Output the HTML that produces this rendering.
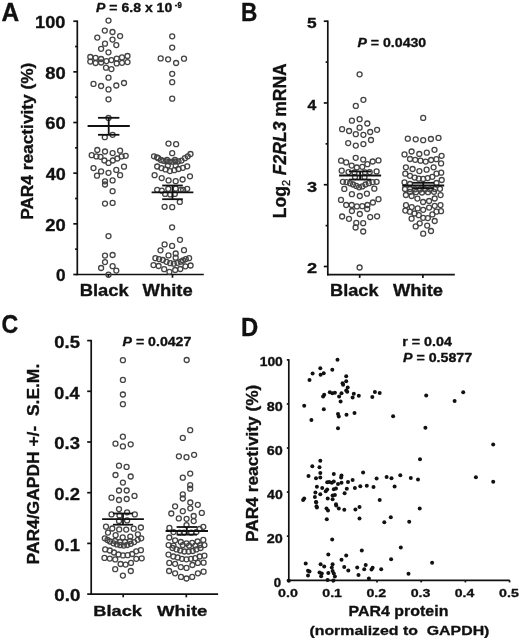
<!DOCTYPE html>
<html><head><meta charset="utf-8"><style>
html,body{margin:0;padding:0;background:#fff;}
svg{display:block;filter:blur(0.35px);}
text{font-family:"Liberation Sans",sans-serif;}
</style></head><body>
<svg width="520" height="640" viewBox="0 0 520 640">
<line x1="77.30" y1="20.45" x2="77.30" y2="275.25" stroke="#111" stroke-width="1.7"/>
<line x1="76.55" y1="274.50" x2="203.80" y2="274.50" stroke="#111" stroke-width="1.7"/>
<line x1="73.30" y1="274.50" x2="77.30" y2="274.50" stroke="#111" stroke-width="1.7"/>
<line x1="73.30" y1="223.84" x2="77.30" y2="223.84" stroke="#111" stroke-width="1.7"/>
<line x1="73.30" y1="173.18" x2="77.30" y2="173.18" stroke="#111" stroke-width="1.7"/>
<line x1="73.30" y1="122.52" x2="77.30" y2="122.52" stroke="#111" stroke-width="1.7"/>
<line x1="73.30" y1="71.86" x2="77.30" y2="71.86" stroke="#111" stroke-width="1.7"/>
<line x1="73.30" y1="21.20" x2="77.30" y2="21.20" stroke="#111" stroke-width="1.7"/>
<line x1="75.10" y1="249.17" x2="77.30" y2="249.17" stroke="#111" stroke-width="1.7"/>
<line x1="75.10" y1="198.51" x2="77.30" y2="198.51" stroke="#111" stroke-width="1.7"/>
<line x1="75.10" y1="147.85" x2="77.30" y2="147.85" stroke="#111" stroke-width="1.7"/>
<line x1="75.10" y1="97.19" x2="77.30" y2="97.19" stroke="#111" stroke-width="1.7"/>
<line x1="75.10" y1="46.53" x2="77.30" y2="46.53" stroke="#111" stroke-width="1.7"/>
<line x1="108.40" y1="274.50" x2="108.40" y2="277.70" stroke="#111" stroke-width="1.7"/>
<line x1="172.50" y1="274.50" x2="172.50" y2="277.70" stroke="#111" stroke-width="1.7"/>
<line x1="327.80" y1="20.44" x2="327.80" y2="275.45" stroke="#111" stroke-width="1.7"/>
<line x1="327.05" y1="274.70" x2="454.80" y2="274.70" stroke="#111" stroke-width="1.7"/>
<line x1="323.80" y1="266.50" x2="327.80" y2="266.50" stroke="#111" stroke-width="1.7"/>
<line x1="323.80" y1="184.73" x2="327.80" y2="184.73" stroke="#111" stroke-width="1.7"/>
<line x1="323.80" y1="102.96" x2="327.80" y2="102.96" stroke="#111" stroke-width="1.7"/>
<line x1="323.80" y1="21.19" x2="327.80" y2="21.19" stroke="#111" stroke-width="1.7"/>
<line x1="325.60" y1="225.62" x2="327.80" y2="225.62" stroke="#111" stroke-width="1.7"/>
<line x1="325.60" y1="143.84" x2="327.80" y2="143.84" stroke="#111" stroke-width="1.7"/>
<line x1="325.60" y1="62.08" x2="327.80" y2="62.08" stroke="#111" stroke-width="1.7"/>
<line x1="359.70" y1="274.70" x2="359.70" y2="277.90" stroke="#111" stroke-width="1.7"/>
<line x1="422.90" y1="274.70" x2="422.90" y2="277.90" stroke="#111" stroke-width="1.7"/>
<line x1="91.20" y1="339.85" x2="91.20" y2="594.85" stroke="#111" stroke-width="1.7"/>
<line x1="90.45" y1="594.10" x2="218.10" y2="594.10" stroke="#111" stroke-width="1.7"/>
<line x1="87.20" y1="594.10" x2="91.20" y2="594.10" stroke="#111" stroke-width="1.7"/>
<line x1="87.20" y1="543.40" x2="91.20" y2="543.40" stroke="#111" stroke-width="1.7"/>
<line x1="87.20" y1="492.70" x2="91.20" y2="492.70" stroke="#111" stroke-width="1.7"/>
<line x1="87.20" y1="442.00" x2="91.20" y2="442.00" stroke="#111" stroke-width="1.7"/>
<line x1="87.20" y1="391.30" x2="91.20" y2="391.30" stroke="#111" stroke-width="1.7"/>
<line x1="87.20" y1="340.60" x2="91.20" y2="340.60" stroke="#111" stroke-width="1.7"/>
<line x1="123.20" y1="594.10" x2="123.20" y2="597.30" stroke="#111" stroke-width="1.7"/>
<line x1="186.30" y1="594.10" x2="186.30" y2="597.30" stroke="#111" stroke-width="1.7"/>
<line x1="288.80" y1="359.15" x2="288.80" y2="581.15" stroke="#111" stroke-width="1.7"/>
<line x1="288.05" y1="580.40" x2="509.80" y2="580.40" stroke="#111" stroke-width="1.7"/>
<line x1="286.80" y1="580.20" x2="288.80" y2="580.20" stroke="#111" stroke-width="1.7"/>
<line x1="286.80" y1="536.14" x2="288.80" y2="536.14" stroke="#111" stroke-width="1.7"/>
<line x1="286.80" y1="492.08" x2="288.80" y2="492.08" stroke="#111" stroke-width="1.7"/>
<line x1="286.80" y1="448.02" x2="288.80" y2="448.02" stroke="#111" stroke-width="1.7"/>
<line x1="286.80" y1="403.96" x2="288.80" y2="403.96" stroke="#111" stroke-width="1.7"/>
<line x1="286.80" y1="359.90" x2="288.80" y2="359.90" stroke="#111" stroke-width="1.7"/>
<line x1="332.80" y1="580.40" x2="332.80" y2="582.40" stroke="#111" stroke-width="1.7"/>
<line x1="377.00" y1="580.40" x2="377.00" y2="582.40" stroke="#111" stroke-width="1.7"/>
<line x1="421.20" y1="580.40" x2="421.20" y2="582.40" stroke="#111" stroke-width="1.7"/>
<line x1="465.40" y1="580.40" x2="465.40" y2="582.40" stroke="#111" stroke-width="1.7"/>
<line x1="509.60" y1="580.40" x2="509.60" y2="582.40" stroke="#111" stroke-width="1.7"/>
<g fill="none" stroke="#444" stroke-width="1.3">
<circle cx="108.5" cy="20.6" r="2.5"/>
<circle cx="104.8" cy="30.6" r="2.5"/>
<circle cx="112.5" cy="32.0" r="2.5"/>
<circle cx="97.3" cy="37.6" r="2.5"/>
<circle cx="120.1" cy="36.1" r="2.5"/>
<circle cx="112.5" cy="39.6" r="2.5"/>
<circle cx="105.0" cy="43.7" r="2.5"/>
<circle cx="116.3" cy="45.1" r="2.5"/>
<circle cx="101.1" cy="48.8" r="2.5"/>
<circle cx="108.5" cy="52.3" r="2.5"/>
<circle cx="90.3" cy="57.0" r="2.5"/>
<circle cx="95.6" cy="57.8" r="2.5"/>
<circle cx="101.1" cy="59.0" r="2.5"/>
<circle cx="116.7" cy="58.6" r="2.5"/>
<circle cx="122.0" cy="57.4" r="2.5"/>
<circle cx="127.5" cy="56.0" r="2.5"/>
<circle cx="90.3" cy="61.6" r="2.5"/>
<circle cx="95.6" cy="63.0" r="2.5"/>
<circle cx="101.1" cy="62.5" r="2.5"/>
<circle cx="106.4" cy="61.1" r="2.5"/>
<circle cx="111.4" cy="60.1" r="2.5"/>
<circle cx="116.7" cy="63.4" r="2.5"/>
<circle cx="122.0" cy="62.8" r="2.5"/>
<circle cx="127.5" cy="62.1" r="2.5"/>
<circle cx="106.0" cy="67.7" r="2.5"/>
<circle cx="111.4" cy="69.1" r="2.5"/>
<circle cx="108.5" cy="77.7" r="2.5"/>
<circle cx="93.5" cy="83.9" r="2.5"/>
<circle cx="101.1" cy="86.0" r="2.5"/>
<circle cx="116.3" cy="85.5" r="2.5"/>
<circle cx="124.0" cy="83.0" r="2.5"/>
<circle cx="108.5" cy="89.4" r="2.5"/>
<circle cx="108.5" cy="99.3" r="2.5"/>
<circle cx="108.5" cy="118.0" r="2.5"/>
<circle cx="104.8" cy="137.2" r="2.5"/>
<circle cx="112.6" cy="134.8" r="2.5"/>
<circle cx="97.3" cy="150.0" r="2.5"/>
<circle cx="105.0" cy="151.5" r="2.5"/>
<circle cx="112.6" cy="153.1" r="2.5"/>
<circle cx="120.1" cy="150.7" r="2.5"/>
<circle cx="91.7" cy="155.2" r="2.5"/>
<circle cx="96.4" cy="156.4" r="2.5"/>
<circle cx="100.5" cy="156.8" r="2.5"/>
<circle cx="121.6" cy="156.4" r="2.5"/>
<circle cx="125.7" cy="155.8" r="2.5"/>
<circle cx="104.4" cy="160.5" r="2.5"/>
<circle cx="112.8" cy="160.5" r="2.5"/>
<circle cx="117.3" cy="158.5" r="2.5"/>
<circle cx="108.5" cy="162.9" r="2.5"/>
<circle cx="93.5" cy="168.1" r="2.5"/>
<circle cx="124.0" cy="166.7" r="2.5"/>
<circle cx="101.1" cy="171.4" r="2.5"/>
<circle cx="108.5" cy="172.8" r="2.5"/>
<circle cx="116.3" cy="169.9" r="2.5"/>
<circle cx="97.0" cy="175.7" r="2.5"/>
<circle cx="120.1" cy="175.2" r="2.5"/>
<circle cx="105.0" cy="181.3" r="2.5"/>
<circle cx="105.0" cy="184.5" r="2.5"/>
<circle cx="112.6" cy="180.4" r="2.5"/>
<circle cx="112.6" cy="191.2" r="2.5"/>
<circle cx="105.0" cy="203.6" r="2.5"/>
<circle cx="112.6" cy="202.9" r="2.5"/>
<circle cx="108.5" cy="236.1" r="2.5"/>
<circle cx="105.0" cy="255.6" r="2.5"/>
<circle cx="112.6" cy="255.0" r="2.5"/>
<circle cx="105.0" cy="262.1" r="2.5"/>
<circle cx="101.1" cy="268.0" r="2.5"/>
<circle cx="112.6" cy="266.2" r="2.5"/>
<circle cx="116.3" cy="270.6" r="2.5"/>
<circle cx="108.5" cy="274.7" r="2.5"/>
<circle cx="172.2" cy="36.3" r="2.5"/>
<circle cx="172.2" cy="47.6" r="2.5"/>
<circle cx="160.7" cy="58.4" r="2.5"/>
<circle cx="168.1" cy="59.3" r="2.5"/>
<circle cx="176.1" cy="63.0" r="2.5"/>
<circle cx="184.0" cy="58.7" r="2.5"/>
<circle cx="172.2" cy="73.8" r="2.5"/>
<circle cx="172.2" cy="82.2" r="2.5"/>
<circle cx="172.2" cy="98.7" r="2.5"/>
<circle cx="168.5" cy="143.6" r="2.5"/>
<circle cx="176.1" cy="144.2" r="2.5"/>
<circle cx="172.2" cy="153.2" r="2.5"/>
<circle cx="154.0" cy="156.3" r="2.5"/>
<circle cx="157.0" cy="157.3" r="2.5"/>
<circle cx="158.2" cy="158.2" r="2.5"/>
<circle cx="160.9" cy="160.0" r="2.5"/>
<circle cx="163.5" cy="160.8" r="2.5"/>
<circle cx="166.5" cy="161.3" r="2.5"/>
<circle cx="169.5" cy="161.6" r="2.5"/>
<circle cx="172.5" cy="161.7" r="2.5"/>
<circle cx="175.5" cy="161.6" r="2.5"/>
<circle cx="178.5" cy="161.3" r="2.5"/>
<circle cx="181.5" cy="160.6" r="2.5"/>
<circle cx="184.9" cy="158.2" r="2.5"/>
<circle cx="187.7" cy="156.3" r="2.5"/>
<circle cx="190.5" cy="154.0" r="2.5"/>
<circle cx="167.0" cy="159.8" r="2.5"/>
<circle cx="175.0" cy="160.0" r="2.5"/>
<circle cx="157.2" cy="166.5" r="2.5"/>
<circle cx="161.4" cy="168.1" r="2.5"/>
<circle cx="165.5" cy="169.4" r="2.5"/>
<circle cx="169.9" cy="171.1" r="2.5"/>
<circle cx="174.3" cy="170.2" r="2.5"/>
<circle cx="178.5" cy="169.0" r="2.5"/>
<circle cx="182.9" cy="167.8" r="2.5"/>
<circle cx="187.2" cy="166.3" r="2.5"/>
<circle cx="167.8" cy="165.5" r="2.5"/>
<circle cx="175.7" cy="165.5" r="2.5"/>
<circle cx="154.6" cy="175.2" r="2.5"/>
<circle cx="161.7" cy="178.1" r="2.5"/>
<circle cx="168.6" cy="180.4" r="2.5"/>
<circle cx="175.7" cy="181.2" r="2.5"/>
<circle cx="182.6" cy="179.5" r="2.5"/>
<circle cx="190.0" cy="176.3" r="2.5"/>
<circle cx="157.2" cy="189.8" r="2.5"/>
<circle cx="161.8" cy="190.7" r="2.5"/>
<circle cx="168.3" cy="188.8" r="2.5"/>
<circle cx="175.7" cy="188.7" r="2.5"/>
<circle cx="180.8" cy="189.8" r="2.5"/>
<circle cx="183.1" cy="189.8" r="2.5"/>
<circle cx="187.2" cy="188.8" r="2.5"/>
<circle cx="165.1" cy="193.9" r="2.5"/>
<circle cx="170.2" cy="194.4" r="2.5"/>
<circle cx="174.8" cy="193.9" r="2.5"/>
<circle cx="179.8" cy="201.9" r="2.5"/>
<circle cx="164.6" cy="206.8" r="2.5"/>
<circle cx="172.2" cy="207.2" r="2.5"/>
<circle cx="172.1" cy="227.3" r="2.5"/>
<circle cx="180.0" cy="239.8" r="2.5"/>
<circle cx="164.6" cy="244.4" r="2.5"/>
<circle cx="172.1" cy="245.9" r="2.5"/>
<circle cx="160.5" cy="250.3" r="2.5"/>
<circle cx="184.0" cy="250.2" r="2.5"/>
<circle cx="168.5" cy="255.4" r="2.5"/>
<circle cx="175.7" cy="253.5" r="2.5"/>
<circle cx="175.7" cy="257.7" r="2.5"/>
<circle cx="155.4" cy="258.2" r="2.5"/>
<circle cx="159.1" cy="259.1" r="2.5"/>
<circle cx="162.8" cy="260.0" r="2.5"/>
<circle cx="189.1" cy="258.2" r="2.5"/>
<circle cx="185.8" cy="259.1" r="2.5"/>
<circle cx="183.1" cy="260.5" r="2.5"/>
<circle cx="166.5" cy="261.8" r="2.5"/>
<circle cx="170.2" cy="263.2" r="2.5"/>
<circle cx="173.8" cy="263.7" r="2.5"/>
<circle cx="177.5" cy="262.8" r="2.5"/>
<circle cx="180.8" cy="261.7" r="2.5"/>
<circle cx="153.5" cy="265.1" r="2.5"/>
<circle cx="158.6" cy="266.0" r="2.5"/>
<circle cx="164.2" cy="269.2" r="2.5"/>
<circle cx="169.4" cy="271.8" r="2.5"/>
<circle cx="175.2" cy="270.0" r="2.5"/>
<circle cx="180.3" cy="269.0" r="2.5"/>
<circle cx="185.4" cy="266.3" r="2.5"/>
<circle cx="190.6" cy="265.5" r="2.5"/>
<circle cx="359.6" cy="74.3" r="2.5"/>
<circle cx="363.4" cy="99.8" r="2.5"/>
<circle cx="355.8" cy="105.9" r="2.5"/>
<circle cx="351.9" cy="120.7" r="2.5"/>
<circle cx="359.6" cy="119.2" r="2.5"/>
<circle cx="367.3" cy="123.5" r="2.5"/>
<circle cx="342.1" cy="129.2" r="2.5"/>
<circle cx="349.1" cy="131.0" r="2.5"/>
<circle cx="359.6" cy="127.7" r="2.5"/>
<circle cx="370.2" cy="132.0" r="2.5"/>
<circle cx="377.1" cy="129.8" r="2.5"/>
<circle cx="355.8" cy="134.2" r="2.5"/>
<circle cx="363.4" cy="134.8" r="2.5"/>
<circle cx="348.2" cy="143.1" r="2.5"/>
<circle cx="355.8" cy="145.6" r="2.5"/>
<circle cx="363.4" cy="144.1" r="2.5"/>
<circle cx="371.0" cy="140.0" r="2.5"/>
<circle cx="355.7" cy="157.8" r="2.5"/>
<circle cx="363.2" cy="159.6" r="2.5"/>
<circle cx="341.1" cy="160.7" r="2.5"/>
<circle cx="346.2" cy="162.4" r="2.5"/>
<circle cx="351.7" cy="165.6" r="2.5"/>
<circle cx="356.8" cy="167.5" r="2.5"/>
<circle cx="362.3" cy="166.8" r="2.5"/>
<circle cx="367.4" cy="164.2" r="2.5"/>
<circle cx="372.7" cy="161.5" r="2.5"/>
<circle cx="378.5" cy="160.4" r="2.5"/>
<circle cx="341.7" cy="170.7" r="2.5"/>
<circle cx="348.5" cy="172.1" r="2.5"/>
<circle cx="354.5" cy="172.5" r="2.5"/>
<circle cx="365.0" cy="172.3" r="2.5"/>
<circle cx="369.7" cy="172.1" r="2.5"/>
<circle cx="376.6" cy="171.4" r="2.5"/>
<circle cx="355.0" cy="177.0" r="2.5"/>
<circle cx="364.5" cy="177.0" r="2.5"/>
<circle cx="342.9" cy="181.8" r="2.5"/>
<circle cx="346.6" cy="182.2" r="2.5"/>
<circle cx="350.0" cy="183.3" r="2.5"/>
<circle cx="353.1" cy="184.5" r="2.5"/>
<circle cx="356.3" cy="185.9" r="2.5"/>
<circle cx="359.1" cy="187.3" r="2.5"/>
<circle cx="362.3" cy="186.4" r="2.5"/>
<circle cx="365.5" cy="184.5" r="2.5"/>
<circle cx="368.8" cy="183.2" r="2.5"/>
<circle cx="372.5" cy="182.2" r="2.5"/>
<circle cx="376.6" cy="181.8" r="2.5"/>
<circle cx="344.3" cy="188.9" r="2.5"/>
<circle cx="374.3" cy="188.7" r="2.5"/>
<circle cx="351.9" cy="194.2" r="2.5"/>
<circle cx="359.8" cy="196.0" r="2.5"/>
<circle cx="366.9" cy="193.7" r="2.5"/>
<circle cx="341.0" cy="199.9" r="2.5"/>
<circle cx="378.5" cy="199.2" r="2.5"/>
<circle cx="346.2" cy="205.0" r="2.5"/>
<circle cx="351.7" cy="205.0" r="2.5"/>
<circle cx="356.9" cy="206.4" r="2.5"/>
<circle cx="362.3" cy="206.2" r="2.5"/>
<circle cx="367.5" cy="205.0" r="2.5"/>
<circle cx="372.9" cy="202.5" r="2.5"/>
<circle cx="351.9" cy="211.0" r="2.5"/>
<circle cx="367.2" cy="209.0" r="2.5"/>
<circle cx="359.8" cy="214.0" r="2.5"/>
<circle cx="342.1" cy="216.5" r="2.5"/>
<circle cx="349.0" cy="218.8" r="2.5"/>
<circle cx="370.2" cy="217.1" r="2.5"/>
<circle cx="377.1" cy="216.3" r="2.5"/>
<circle cx="356.3" cy="222.9" r="2.5"/>
<circle cx="363.2" cy="223.2" r="2.5"/>
<circle cx="355.6" cy="227.5" r="2.5"/>
<circle cx="363.2" cy="231.5" r="2.5"/>
<circle cx="359.6" cy="267.5" r="2.5"/>
<circle cx="423.2" cy="117.9" r="2.5"/>
<circle cx="407.8" cy="138.7" r="2.5"/>
<circle cx="415.7" cy="139.3" r="2.5"/>
<circle cx="423.2" cy="140.2" r="2.5"/>
<circle cx="430.9" cy="139.0" r="2.5"/>
<circle cx="438.5" cy="137.9" r="2.5"/>
<circle cx="404.5" cy="154.4" r="2.5"/>
<circle cx="411.6" cy="151.5" r="2.5"/>
<circle cx="419.3" cy="154.0" r="2.5"/>
<circle cx="426.8" cy="152.7" r="2.5"/>
<circle cx="434.5" cy="149.8" r="2.5"/>
<circle cx="441.6" cy="155.8" r="2.5"/>
<circle cx="410.0" cy="159.0" r="2.5"/>
<circle cx="415.2" cy="159.8" r="2.5"/>
<circle cx="420.5" cy="160.7" r="2.5"/>
<circle cx="425.7" cy="161.6" r="2.5"/>
<circle cx="431.1" cy="160.0" r="2.5"/>
<circle cx="436.4" cy="159.2" r="2.5"/>
<circle cx="441.1" cy="163.4" r="2.5"/>
<circle cx="405.9" cy="167.3" r="2.5"/>
<circle cx="412.6" cy="169.0" r="2.5"/>
<circle cx="419.4" cy="171.1" r="2.5"/>
<circle cx="426.6" cy="169.7" r="2.5"/>
<circle cx="433.6" cy="167.3" r="2.5"/>
<circle cx="405.3" cy="173.7" r="2.5"/>
<circle cx="410.0" cy="175.8" r="2.5"/>
<circle cx="414.7" cy="177.6" r="2.5"/>
<circle cx="418.8" cy="178.7" r="2.5"/>
<circle cx="423.2" cy="178.9" r="2.5"/>
<circle cx="427.7" cy="178.1" r="2.5"/>
<circle cx="432.3" cy="176.8" r="2.5"/>
<circle cx="436.5" cy="173.7" r="2.5"/>
<circle cx="441.2" cy="172.7" r="2.5"/>
<circle cx="404.5" cy="182.3" r="2.5"/>
<circle cx="441.7" cy="180.0" r="2.5"/>
<circle cx="436.5" cy="183.0" r="2.5"/>
<circle cx="410.0" cy="184.0" r="2.5"/>
<circle cx="405.0" cy="189.0" r="2.5"/>
<circle cx="410.0" cy="189.0" r="2.5"/>
<circle cx="415.0" cy="189.3" r="2.5"/>
<circle cx="420.0" cy="189.5" r="2.5"/>
<circle cx="425.0" cy="189.5" r="2.5"/>
<circle cx="430.0" cy="189.3" r="2.5"/>
<circle cx="435.0" cy="189.0" r="2.5"/>
<circle cx="440.0" cy="188.8" r="2.5"/>
<circle cx="410.0" cy="191.8" r="2.5"/>
<circle cx="416.0" cy="192.2" r="2.5"/>
<circle cx="422.0" cy="192.5" r="2.5"/>
<circle cx="428.0" cy="192.2" r="2.5"/>
<circle cx="434.0" cy="191.8" r="2.5"/>
<circle cx="405.9" cy="195.0" r="2.5"/>
<circle cx="411.6" cy="196.0" r="2.5"/>
<circle cx="417.4" cy="198.6" r="2.5"/>
<circle cx="423.1" cy="202.0" r="2.5"/>
<circle cx="429.1" cy="201.0" r="2.5"/>
<circle cx="434.7" cy="198.5" r="2.5"/>
<circle cx="440.6" cy="195.1" r="2.5"/>
<circle cx="406.0" cy="205.2" r="2.5"/>
<circle cx="411.7" cy="207.1" r="2.5"/>
<circle cx="417.7" cy="208.4" r="2.5"/>
<circle cx="423.2" cy="209.8" r="2.5"/>
<circle cx="429.1" cy="207.6" r="2.5"/>
<circle cx="434.7" cy="205.8" r="2.5"/>
<circle cx="440.5" cy="205.1" r="2.5"/>
<circle cx="405.3" cy="210.6" r="2.5"/>
<circle cx="409.9" cy="211.7" r="2.5"/>
<circle cx="414.5" cy="213.5" r="2.5"/>
<circle cx="418.8" cy="215.2" r="2.5"/>
<circle cx="423.2" cy="217.8" r="2.5"/>
<circle cx="427.8" cy="218.1" r="2.5"/>
<circle cx="432.4" cy="214.4" r="2.5"/>
<circle cx="436.4" cy="211.7" r="2.5"/>
<circle cx="441.0" cy="211.2" r="2.5"/>
<circle cx="411.6" cy="218.7" r="2.5"/>
<circle cx="434.7" cy="221.0" r="2.5"/>
<circle cx="419.7" cy="223.3" r="2.5"/>
<circle cx="415.7" cy="226.4" r="2.5"/>
<circle cx="427.2" cy="225.6" r="2.5"/>
<circle cx="431.0" cy="231.0" r="2.5"/>
<circle cx="423.2" cy="233.7" r="2.5"/>
<circle cx="122.9" cy="360.2" r="2.5"/>
<circle cx="122.9" cy="379.9" r="2.5"/>
<circle cx="122.9" cy="394.5" r="2.5"/>
<circle cx="122.9" cy="404.2" r="2.5"/>
<circle cx="122.9" cy="436.7" r="2.5"/>
<circle cx="115.5" cy="443.7" r="2.5"/>
<circle cx="122.9" cy="446.4" r="2.5"/>
<circle cx="130.7" cy="444.3" r="2.5"/>
<circle cx="119.0" cy="465.7" r="2.5"/>
<circle cx="126.6" cy="466.9" r="2.5"/>
<circle cx="115.5" cy="475.0" r="2.5"/>
<circle cx="130.7" cy="476.5" r="2.5"/>
<circle cx="122.9" cy="482.6" r="2.5"/>
<circle cx="119.0" cy="490.5" r="2.5"/>
<circle cx="126.7" cy="490.5" r="2.5"/>
<circle cx="111.5" cy="497.7" r="2.5"/>
<circle cx="119.0" cy="500.0" r="2.5"/>
<circle cx="126.7" cy="499.0" r="2.5"/>
<circle cx="134.5" cy="495.9" r="2.5"/>
<circle cx="119.0" cy="509.1" r="2.5"/>
<circle cx="111.5" cy="514.4" r="2.5"/>
<circle cx="127.1" cy="512.3" r="2.5"/>
<circle cx="134.8" cy="514.4" r="2.5"/>
<circle cx="119.0" cy="521.0" r="2.5"/>
<circle cx="127.1" cy="520.4" r="2.5"/>
<circle cx="119.5" cy="515.5" r="2.5"/>
<circle cx="106.0" cy="526.7" r="2.5"/>
<circle cx="112.3" cy="528.5" r="2.5"/>
<circle cx="119.2" cy="529.4" r="2.5"/>
<circle cx="126.2" cy="529.6" r="2.5"/>
<circle cx="133.7" cy="528.7" r="2.5"/>
<circle cx="140.9" cy="527.5" r="2.5"/>
<circle cx="108.0" cy="532.6" r="2.5"/>
<circle cx="115.6" cy="535.2" r="2.5"/>
<circle cx="122.7" cy="537.3" r="2.5"/>
<circle cx="130.3" cy="536.6" r="2.5"/>
<circle cx="137.9" cy="534.3" r="2.5"/>
<circle cx="104.8" cy="538.3" r="2.5"/>
<circle cx="107.5" cy="540.0" r="2.5"/>
<circle cx="110.0" cy="541.5" r="2.5"/>
<circle cx="113.5" cy="543.3" r="2.5"/>
<circle cx="116.9" cy="544.4" r="2.5"/>
<circle cx="120.4" cy="545.2" r="2.5"/>
<circle cx="123.8" cy="545.6" r="2.5"/>
<circle cx="127.3" cy="545.0" r="2.5"/>
<circle cx="130.8" cy="543.8" r="2.5"/>
<circle cx="134.2" cy="542.1" r="2.5"/>
<circle cx="137.7" cy="539.8" r="2.5"/>
<circle cx="141.2" cy="538.3" r="2.5"/>
<circle cx="115.0" cy="541.0" r="2.5"/>
<circle cx="120.0" cy="542.0" r="2.5"/>
<circle cx="125.0" cy="542.0" r="2.5"/>
<circle cx="130.0" cy="541.0" r="2.5"/>
<circle cx="105.2" cy="549.4" r="2.5"/>
<circle cx="109.8" cy="550.5" r="2.5"/>
<circle cx="114.0" cy="552.5" r="2.5"/>
<circle cx="118.4" cy="554.5" r="2.5"/>
<circle cx="123.0" cy="555.4" r="2.5"/>
<circle cx="127.7" cy="555.2" r="2.5"/>
<circle cx="132.2" cy="554.0" r="2.5"/>
<circle cx="136.2" cy="551.3" r="2.5"/>
<circle cx="140.9" cy="550.2" r="2.5"/>
<circle cx="104.5" cy="557.9" r="2.5"/>
<circle cx="109.8" cy="558.6" r="2.5"/>
<circle cx="115.2" cy="559.4" r="2.5"/>
<circle cx="136.3" cy="558.8" r="2.5"/>
<circle cx="141.7" cy="558.3" r="2.5"/>
<circle cx="120.6" cy="564.0" r="2.5"/>
<circle cx="125.6" cy="564.6" r="2.5"/>
<circle cx="131.0" cy="562.9" r="2.5"/>
<circle cx="115.2" cy="569.2" r="2.5"/>
<circle cx="130.8" cy="571.0" r="2.5"/>
<circle cx="122.9" cy="575.6" r="2.5"/>
<circle cx="186.7" cy="360.0" r="2.5"/>
<circle cx="190.2" cy="430.2" r="2.5"/>
<circle cx="182.8" cy="437.9" r="2.5"/>
<circle cx="178.9" cy="456.3" r="2.5"/>
<circle cx="186.5" cy="457.2" r="2.5"/>
<circle cx="194.1" cy="454.8" r="2.5"/>
<circle cx="190.2" cy="473.6" r="2.5"/>
<circle cx="182.8" cy="477.7" r="2.5"/>
<circle cx="190.2" cy="485.2" r="2.5"/>
<circle cx="190.2" cy="488.7" r="2.5"/>
<circle cx="182.8" cy="494.4" r="2.5"/>
<circle cx="182.8" cy="498.5" r="2.5"/>
<circle cx="190.3" cy="502.5" r="2.5"/>
<circle cx="190.3" cy="508.3" r="2.5"/>
<circle cx="175.1" cy="506.3" r="2.5"/>
<circle cx="197.8" cy="504.8" r="2.5"/>
<circle cx="182.8" cy="511.2" r="2.5"/>
<circle cx="171.3" cy="513.5" r="2.5"/>
<circle cx="201.8" cy="512.9" r="2.5"/>
<circle cx="178.8" cy="518.4" r="2.5"/>
<circle cx="186.6" cy="518.8" r="2.5"/>
<circle cx="193.7" cy="516.0" r="2.5"/>
<circle cx="193.7" cy="521.1" r="2.5"/>
<circle cx="186.5" cy="525.2" r="2.5"/>
<circle cx="169.4" cy="527.9" r="2.5"/>
<circle cx="203.3" cy="526.8" r="2.5"/>
<circle cx="173.5" cy="532.1" r="2.5"/>
<circle cx="179.7" cy="532.7" r="2.5"/>
<circle cx="183.9" cy="532.7" r="2.5"/>
<circle cx="191.2" cy="532.7" r="2.5"/>
<circle cx="196.3" cy="532.1" r="2.5"/>
<circle cx="199.5" cy="529.0" r="2.5"/>
<circle cx="169.3" cy="537.5" r="2.5"/>
<circle cx="175.1" cy="540.3" r="2.5"/>
<circle cx="180.8" cy="542.0" r="2.5"/>
<circle cx="186.5" cy="543.3" r="2.5"/>
<circle cx="192.2" cy="542.8" r="2.5"/>
<circle cx="197.6" cy="541.5" r="2.5"/>
<circle cx="203.3" cy="539.9" r="2.5"/>
<circle cx="168.6" cy="545.1" r="2.5"/>
<circle cx="173.5" cy="545.6" r="2.5"/>
<circle cx="182.8" cy="545.1" r="2.5"/>
<circle cx="189.1" cy="545.6" r="2.5"/>
<circle cx="195.3" cy="545.6" r="2.5"/>
<circle cx="200.0" cy="545.1" r="2.5"/>
<circle cx="204.4" cy="545.1" r="2.5"/>
<circle cx="176.6" cy="549.4" r="2.5"/>
<circle cx="180.2" cy="550.5" r="2.5"/>
<circle cx="184.4" cy="551.5" r="2.5"/>
<circle cx="188.6" cy="551.5" r="2.5"/>
<circle cx="192.7" cy="551.0" r="2.5"/>
<circle cx="196.3" cy="549.4" r="2.5"/>
<circle cx="172.5" cy="548.0" r="2.5"/>
<circle cx="200.5" cy="548.0" r="2.5"/>
<circle cx="168.5" cy="554.6" r="2.5"/>
<circle cx="173.3" cy="556.5" r="2.5"/>
<circle cx="177.7" cy="557.5" r="2.5"/>
<circle cx="182.0" cy="558.8" r="2.5"/>
<circle cx="186.5" cy="559.3" r="2.5"/>
<circle cx="190.9" cy="558.8" r="2.5"/>
<circle cx="195.3" cy="558.2" r="2.5"/>
<circle cx="199.7" cy="556.5" r="2.5"/>
<circle cx="204.4" cy="555.7" r="2.5"/>
<circle cx="169.3" cy="562.9" r="2.5"/>
<circle cx="175.1" cy="563.8" r="2.5"/>
<circle cx="180.8" cy="567.1" r="2.5"/>
<circle cx="186.5" cy="567.9" r="2.5"/>
<circle cx="192.4" cy="565.0" r="2.5"/>
<circle cx="197.9" cy="562.9" r="2.5"/>
<circle cx="203.6" cy="562.7" r="2.5"/>
<circle cx="169.1" cy="571.0" r="2.5"/>
<circle cx="175.1" cy="573.3" r="2.5"/>
<circle cx="181.0" cy="576.9" r="2.5"/>
<circle cx="186.5" cy="578.5" r="2.5"/>
<circle cx="192.2" cy="576.9" r="2.5"/>
<circle cx="197.9" cy="573.3" r="2.5"/>
<circle cx="203.6" cy="571.7" r="2.5"/>
</g>
<line x1="87.60" y1="126.00" x2="129.80" y2="126.00" stroke="#111" stroke-width="1.8"/>
<line x1="98.00" y1="117.80" x2="119.40" y2="117.80" stroke="#111" stroke-width="1.8"/>
<line x1="98.00" y1="134.80" x2="119.40" y2="134.80" stroke="#111" stroke-width="1.8"/>
<line x1="108.70" y1="117.80" x2="108.70" y2="134.80" stroke="#111" stroke-width="1.8"/>
<line x1="151.60" y1="192.30" x2="193.40" y2="192.30" stroke="#111" stroke-width="1.8"/>
<line x1="162.20" y1="185.50" x2="182.80" y2="185.50" stroke="#111" stroke-width="1.8"/>
<line x1="162.20" y1="199.20" x2="182.80" y2="199.20" stroke="#111" stroke-width="1.8"/>
<line x1="172.50" y1="185.50" x2="172.50" y2="199.20" stroke="#111" stroke-width="1.8"/>
<line x1="339.10" y1="175.50" x2="381.10" y2="175.50" stroke="#111" stroke-width="1.8"/>
<line x1="348.90" y1="171.50" x2="371.30" y2="171.50" stroke="#111" stroke-width="1.8"/>
<line x1="348.90" y1="179.60" x2="371.30" y2="179.60" stroke="#111" stroke-width="1.8"/>
<line x1="360.10" y1="171.50" x2="360.10" y2="179.60" stroke="#111" stroke-width="1.8"/>
<line x1="402.20" y1="185.50" x2="444.20" y2="185.50" stroke="#111" stroke-width="1.8"/>
<line x1="412.30" y1="182.80" x2="434.10" y2="182.80" stroke="#111" stroke-width="1.8"/>
<line x1="412.30" y1="188.30" x2="434.10" y2="188.30" stroke="#111" stroke-width="1.8"/>
<line x1="423.20" y1="182.80" x2="423.20" y2="188.30" stroke="#111" stroke-width="1.8"/>
<line x1="102.10" y1="519.20" x2="143.90" y2="519.20" stroke="#111" stroke-width="1.8"/>
<line x1="112.90" y1="513.50" x2="133.10" y2="513.50" stroke="#111" stroke-width="1.8"/>
<line x1="112.90" y1="524.70" x2="133.10" y2="524.70" stroke="#111" stroke-width="1.8"/>
<line x1="123.00" y1="513.50" x2="123.00" y2="524.70" stroke="#111" stroke-width="1.8"/>
<line x1="165.60" y1="531.00" x2="208.00" y2="531.00" stroke="#111" stroke-width="1.8"/>
<line x1="176.60" y1="527.00" x2="197.00" y2="527.00" stroke="#111" stroke-width="1.8"/>
<line x1="176.60" y1="534.60" x2="197.00" y2="534.60" stroke="#111" stroke-width="1.8"/>
<line x1="186.80" y1="527.00" x2="186.80" y2="534.60" stroke="#111" stroke-width="1.8"/>
<g fill="#111">
<circle cx="337.5" cy="359.7" r="2.0"/>
<circle cx="320.3" cy="368.2" r="2.0"/>
<circle cx="332.3" cy="369.7" r="2.0"/>
<circle cx="312.6" cy="373.5" r="2.0"/>
<circle cx="320.6" cy="374.8" r="2.0"/>
<circle cx="323.7" cy="373.2" r="2.0"/>
<circle cx="309.5" cy="380.0" r="2.0"/>
<circle cx="346.2" cy="376.2" r="2.0"/>
<circle cx="346.2" cy="381.2" r="2.0"/>
<circle cx="342.6" cy="383.2" r="2.0"/>
<circle cx="343.1" cy="384.8" r="2.0"/>
<circle cx="347.7" cy="387.4" r="2.0"/>
<circle cx="346.2" cy="390.5" r="2.0"/>
<circle cx="347.2" cy="391.7" r="2.0"/>
<circle cx="329.8" cy="392.3" r="2.0"/>
<circle cx="332.3" cy="393.2" r="2.0"/>
<circle cx="334.9" cy="392.8" r="2.0"/>
<circle cx="341.5" cy="393.2" r="2.0"/>
<circle cx="324.2" cy="394.8" r="2.0"/>
<circle cx="323.1" cy="396.6" r="2.0"/>
<circle cx="339.1" cy="396.6" r="2.0"/>
<circle cx="353.8" cy="393.8" r="2.0"/>
<circle cx="352.6" cy="397.4" r="2.0"/>
<circle cx="358.8" cy="395.8" r="2.0"/>
<circle cx="340.6" cy="401.5" r="2.0"/>
<circle cx="304.2" cy="405.8" r="2.0"/>
<circle cx="323.8" cy="409.2" r="2.0"/>
<circle cx="338.0" cy="414.0" r="2.0"/>
<circle cx="338.8" cy="416.6" r="2.0"/>
<circle cx="346.5" cy="414.8" r="2.0"/>
<circle cx="354.5" cy="413.1" r="2.0"/>
<circle cx="311.4" cy="420.0" r="2.0"/>
<circle cx="338.0" cy="428.2" r="2.0"/>
<circle cx="374.9" cy="392.0" r="2.0"/>
<circle cx="379.7" cy="393.1" r="2.0"/>
<circle cx="372.3" cy="396.9" r="2.0"/>
<circle cx="426.2" cy="395.4" r="2.0"/>
<circle cx="393.1" cy="416.3" r="2.0"/>
<circle cx="425.4" cy="427.7" r="2.0"/>
<circle cx="463.2" cy="392.3" r="2.0"/>
<circle cx="454.6" cy="400.9" r="2.0"/>
<circle cx="320.3" cy="460.7" r="2.0"/>
<circle cx="312.3" cy="466.2" r="2.0"/>
<circle cx="319.5" cy="467.3" r="2.0"/>
<circle cx="320.3" cy="473.0" r="2.0"/>
<circle cx="333.8" cy="473.9" r="2.0"/>
<circle cx="308.5" cy="476.1" r="2.0"/>
<circle cx="316.0" cy="478.2" r="2.0"/>
<circle cx="320.3" cy="477.6" r="2.0"/>
<circle cx="341.5" cy="475.5" r="2.0"/>
<circle cx="341.1" cy="477.6" r="2.0"/>
<circle cx="363.1" cy="472.4" r="2.0"/>
<circle cx="352.6" cy="480.1" r="2.0"/>
<circle cx="327.2" cy="482.2" r="2.0"/>
<circle cx="329.2" cy="481.9" r="2.0"/>
<circle cx="331.8" cy="482.7" r="2.0"/>
<circle cx="333.8" cy="481.6" r="2.0"/>
<circle cx="338.0" cy="483.9" r="2.0"/>
<circle cx="341.5" cy="482.8" r="2.0"/>
<circle cx="348.0" cy="481.9" r="2.0"/>
<circle cx="316.9" cy="486.8" r="2.0"/>
<circle cx="322.2" cy="488.1" r="2.0"/>
<circle cx="327.2" cy="489.6" r="2.0"/>
<circle cx="325.7" cy="491.2" r="2.0"/>
<circle cx="333.8" cy="489.3" r="2.0"/>
<circle cx="336.0" cy="488.4" r="2.0"/>
<circle cx="346.8" cy="488.8" r="2.0"/>
<circle cx="354.9" cy="488.1" r="2.0"/>
<circle cx="360.3" cy="486.2" r="2.0"/>
<circle cx="366.8" cy="485.8" r="2.0"/>
<circle cx="315.4" cy="492.4" r="2.0"/>
<circle cx="320.3" cy="494.2" r="2.0"/>
<circle cx="344.6" cy="493.2" r="2.0"/>
<circle cx="332.6" cy="495.5" r="2.0"/>
<circle cx="334.9" cy="495.0" r="2.0"/>
<circle cx="314.9" cy="497.0" r="2.0"/>
<circle cx="304.2" cy="498.5" r="2.0"/>
<circle cx="303.1" cy="500.1" r="2.0"/>
<circle cx="327.7" cy="498.5" r="2.0"/>
<circle cx="332.6" cy="499.2" r="2.0"/>
<circle cx="316.0" cy="501.9" r="2.0"/>
<circle cx="336.0" cy="504.2" r="2.0"/>
<circle cx="420.0" cy="459.2" r="2.0"/>
<circle cx="376.6" cy="478.4" r="2.0"/>
<circle cx="386.6" cy="477.0" r="2.0"/>
<circle cx="391.5" cy="478.2" r="2.0"/>
<circle cx="400.3" cy="475.2" r="2.0"/>
<circle cx="410.8" cy="478.1" r="2.0"/>
<circle cx="418.0" cy="479.6" r="2.0"/>
<circle cx="373.5" cy="487.0" r="2.0"/>
<circle cx="394.6" cy="486.5" r="2.0"/>
<circle cx="379.7" cy="500.1" r="2.0"/>
<circle cx="493.2" cy="444.4" r="2.0"/>
<circle cx="475.9" cy="477.3" r="2.0"/>
<circle cx="493.2" cy="481.8" r="2.0"/>
<circle cx="316.2" cy="502.3" r="2.0"/>
<circle cx="316.5" cy="506.2" r="2.0"/>
<circle cx="316.9" cy="507.4" r="2.0"/>
<circle cx="326.5" cy="508.5" r="2.0"/>
<circle cx="328.0" cy="510.5" r="2.0"/>
<circle cx="336.2" cy="505.4" r="2.0"/>
<circle cx="338.8" cy="508.5" r="2.0"/>
<circle cx="344.3" cy="509.7" r="2.0"/>
<circle cx="355.4" cy="509.5" r="2.0"/>
<circle cx="359.5" cy="506.9" r="2.0"/>
<circle cx="326.8" cy="519.2" r="2.0"/>
<circle cx="359.5" cy="518.5" r="2.0"/>
<circle cx="332.2" cy="539.4" r="2.0"/>
<circle cx="361.8" cy="550.5" r="2.0"/>
<circle cx="328.3" cy="554.6" r="2.0"/>
<circle cx="346.2" cy="555.4" r="2.0"/>
<circle cx="341.5" cy="559.7" r="2.0"/>
<circle cx="305.7" cy="563.4" r="2.0"/>
<circle cx="320.6" cy="564.3" r="2.0"/>
<circle cx="324.2" cy="566.5" r="2.0"/>
<circle cx="332.6" cy="564.3" r="2.0"/>
<circle cx="331.8" cy="567.4" r="2.0"/>
<circle cx="344.2" cy="566.9" r="2.0"/>
<circle cx="357.2" cy="567.4" r="2.0"/>
<circle cx="365.7" cy="564.9" r="2.0"/>
<circle cx="364.2" cy="569.2" r="2.0"/>
<circle cx="308.0" cy="570.8" r="2.0"/>
<circle cx="309.5" cy="571.5" r="2.0"/>
<circle cx="348.3" cy="570.5" r="2.0"/>
<circle cx="319.5" cy="572.6" r="2.0"/>
<circle cx="321.8" cy="573.5" r="2.0"/>
<circle cx="328.3" cy="573.1" r="2.0"/>
<circle cx="332.6" cy="571.1" r="2.0"/>
<circle cx="333.8" cy="573.5" r="2.0"/>
<circle cx="308.0" cy="575.4" r="2.0"/>
<circle cx="321.1" cy="576.2" r="2.0"/>
<circle cx="334.9" cy="576.5" r="2.0"/>
<circle cx="358.5" cy="575.1" r="2.0"/>
<circle cx="419.7" cy="508.5" r="2.0"/>
<circle cx="390.8" cy="517.2" r="2.0"/>
<circle cx="384.3" cy="522.3" r="2.0"/>
<circle cx="409.2" cy="521.8" r="2.0"/>
<circle cx="400.8" cy="547.4" r="2.0"/>
<circle cx="391.1" cy="559.2" r="2.0"/>
<circle cx="432.1" cy="562.8" r="2.0"/>
<circle cx="372.6" cy="567.7" r="2.0"/>
<circle cx="371.5" cy="569.5" r="2.0"/>
<circle cx="381.2" cy="569.2" r="2.0"/>
<circle cx="408.5" cy="573.8" r="2.0"/>
<circle cx="368.9" cy="578.5" r="2.0"/>
<circle cx="288.8" cy="580.7" r="2.0"/>
<circle cx="327.6" cy="580.1" r="2.0"/>
<circle cx="333.4" cy="580.5" r="2.0"/>
</g>
<g fill="#111">
<text transform="translate(1.49,20.50) scale(0.6111,0.6393)" font-size="40" font-weight="bold" stroke="#111" stroke-width="0.560" stroke-linejoin="round">A</text>
<text transform="translate(240.97,20.50) scale(0.5654,0.6321)" font-size="40" font-weight="bold" stroke="#111" stroke-width="0.585" stroke-linejoin="round">B</text>
<text transform="translate(1.62,332.90) scale(0.5778,0.6607)" font-size="40" font-weight="bold" stroke="#111" stroke-width="0.566" stroke-linejoin="round">C</text>
<text transform="translate(240.91,335.50) scale(0.5962,0.6464)" font-size="40" font-weight="bold" stroke="#111" stroke-width="0.564" stroke-linejoin="round">D</text>
<text transform="translate(96.10,11.89) scale(0.3514,0.3133)" font-size="40" font-weight="bold" stroke="#111" stroke-width="1.055" stroke-linejoin="round"><tspan font-style="italic">P</tspan> = 6.8 x 10</text>
<text transform="translate(174.81,7.79) scale(0.1941,0.2133)" font-size="40" font-weight="bold" stroke="#111" stroke-width="1.720" stroke-linejoin="round">-9</text>
<text transform="translate(357.50,47.30) scale(0.3531,0.3033)" font-size="40" font-weight="bold" stroke="#111" stroke-width="1.069" stroke-linejoin="round"><tspan font-style="italic">P</tspan> = 0.0430</text>
<text transform="translate(122.60,345.79) scale(0.3534,0.3133)" font-size="40" font-weight="bold" stroke="#111" stroke-width="1.052" stroke-linejoin="round"><tspan font-style="italic">P</tspan> = 0.0427</text>
<text transform="translate(402.29,345.80) scale(0.3572,0.3000)" font-size="40" font-weight="bold" stroke="#111" stroke-width="1.069" stroke-linejoin="round">r = 0.04</text>
<text transform="translate(403.00,362.20) scale(0.3554,0.2967)" font-size="40" font-weight="bold" stroke="#111" stroke-width="1.078" stroke-linejoin="round"><tspan font-style="italic">P</tspan> = 0.5877</text>
<text transform="translate(56.07,281.47) scale(0.4300,0.4267)" font-size="40" font-weight="bold" stroke="#111" stroke-width="0.817" stroke-linejoin="round">0</text>
<text transform="translate(45.34,230.81) scale(0.4595,0.4267)" font-size="40" font-weight="bold" stroke="#111" stroke-width="0.790" stroke-linejoin="round">20</text>
<text transform="translate(45.80,180.15) scale(0.4488,0.4267)" font-size="40" font-weight="bold" stroke="#111" stroke-width="0.800" stroke-linejoin="round">40</text>
<text transform="translate(45.34,129.49) scale(0.4595,0.4267)" font-size="40" font-weight="bold" stroke="#111" stroke-width="0.790" stroke-linejoin="round">60</text>
<text transform="translate(45.34,78.83) scale(0.4595,0.4267)" font-size="40" font-weight="bold" stroke="#111" stroke-width="0.790" stroke-linejoin="round">80</text>
<text transform="translate(35.09,28.17) scale(0.4547,0.4267)" font-size="40" font-weight="bold" stroke="#111" stroke-width="0.795" stroke-linejoin="round">100</text>
<text transform="translate(306.94,273.41) scale(0.4550,0.3867)" font-size="40" font-weight="bold" stroke="#111" stroke-width="0.834" stroke-linejoin="round">2</text>
<text transform="translate(306.94,191.64) scale(0.4550,0.3867)" font-size="40" font-weight="bold" stroke="#111" stroke-width="0.834" stroke-linejoin="round">3</text>
<text transform="translate(307.40,109.87) scale(0.3957,0.3867)" font-size="40" font-weight="bold" stroke="#111" stroke-width="0.895" stroke-linejoin="round">4</text>
<text transform="translate(306.97,28.10) scale(0.4333,0.3867)" font-size="40" font-weight="bold" stroke="#111" stroke-width="0.855" stroke-linejoin="round">5</text>
<text transform="translate(54.33,601.33) scale(0.4698,0.4167)" font-size="40" font-weight="bold" stroke="#111" stroke-width="0.791" stroke-linejoin="round">0.0</text>
<text transform="translate(54.34,550.63) scale(0.4611,0.4167)" font-size="40" font-weight="bold" stroke="#111" stroke-width="0.798" stroke-linejoin="round">0.1</text>
<text transform="translate(54.34,499.93) scale(0.4611,0.4167)" font-size="40" font-weight="bold" stroke="#111" stroke-width="0.798" stroke-linejoin="round">0.2</text>
<text transform="translate(54.34,449.23) scale(0.4611,0.4167)" font-size="40" font-weight="bold" stroke="#111" stroke-width="0.798" stroke-linejoin="round">0.3</text>
<text transform="translate(54.35,398.53) scale(0.4527,0.4167)" font-size="40" font-weight="bold" stroke="#111" stroke-width="0.806" stroke-linejoin="round">0.4</text>
<text transform="translate(54.34,347.83) scale(0.4611,0.4167)" font-size="40" font-weight="bold" stroke="#111" stroke-width="0.798" stroke-linejoin="round">0.5</text>
<text transform="translate(273.67,586.74) scale(0.3300,0.3100)" font-size="40" font-weight="bold" stroke="#111" stroke-width="1.094" stroke-linejoin="round">0</text>
<text transform="translate(266.74,542.68) scale(0.3605,0.3100)" font-size="40" font-weight="bold" stroke="#111" stroke-width="1.047" stroke-linejoin="round">20</text>
<text transform="translate(267.10,498.62) scale(0.3523,0.3100)" font-size="40" font-weight="bold" stroke="#111" stroke-width="1.059" stroke-linejoin="round">40</text>
<text transform="translate(266.74,454.56) scale(0.3605,0.3100)" font-size="40" font-weight="bold" stroke="#111" stroke-width="1.047" stroke-linejoin="round">60</text>
<text transform="translate(266.74,410.50) scale(0.3605,0.3100)" font-size="40" font-weight="bold" stroke="#111" stroke-width="1.047" stroke-linejoin="round">80</text>
<text transform="translate(259.71,366.44) scale(0.3469,0.3100)" font-size="40" font-weight="bold" stroke="#111" stroke-width="1.067" stroke-linejoin="round">100</text>
<text transform="translate(278.04,597.11) scale(0.3556,0.2867)" font-size="40" font-weight="bold" stroke="#111" stroke-width="1.096" stroke-linejoin="round">0.0</text>
<text transform="translate(322.24,597.11) scale(0.3556,0.2867)" font-size="40" font-weight="bold" stroke="#111" stroke-width="1.096" stroke-linejoin="round">0.1</text>
<text transform="translate(366.44,597.11) scale(0.3556,0.2867)" font-size="40" font-weight="bold" stroke="#111" stroke-width="1.096" stroke-linejoin="round">0.2</text>
<text transform="translate(410.64,597.11) scale(0.3556,0.2867)" font-size="40" font-weight="bold" stroke="#111" stroke-width="1.096" stroke-linejoin="round">0.3</text>
<text transform="translate(454.85,597.11) scale(0.3491,0.2867)" font-size="40" font-weight="bold" stroke="#111" stroke-width="1.106" stroke-linejoin="round">0.4</text>
<text transform="translate(499.04,597.11) scale(0.3556,0.2867)" font-size="40" font-weight="bold" stroke="#111" stroke-width="1.096" stroke-linejoin="round">0.5</text>
<text transform="translate(79.68,296.19) scale(0.4600,0.4125)" font-size="40" font-weight="bold" stroke="#111" stroke-width="0.803" stroke-linejoin="round">Black</text>
<text transform="translate(142.60,296.09) scale(0.4602,0.4094)" font-size="40" font-weight="bold" stroke="#111" stroke-width="0.806" stroke-linejoin="round">White</text>
<text transform="translate(330.09,296.09) scale(0.4543,0.4094)" font-size="40" font-weight="bold" stroke="#111" stroke-width="0.812" stroke-linejoin="round">Black</text>
<text transform="translate(393.00,296.09) scale(0.4593,0.4094)" font-size="40" font-weight="bold" stroke="#111" stroke-width="0.807" stroke-linejoin="round">White</text>
<text transform="translate(93.29,616.42) scale(0.4571,0.3844)" font-size="40" font-weight="bold" stroke="#111" stroke-width="0.835" stroke-linejoin="round">Black</text>
<text transform="translate(156.90,616.42) scale(0.4639,0.3844)" font-size="40" font-weight="bold" stroke="#111" stroke-width="0.829" stroke-linejoin="round">White</text>
<text transform="translate(348.60,616.42) scale(0.3988,0.3750)" font-size="40" font-weight="bold" stroke="#111" stroke-width="0.905" stroke-linejoin="round">PAR4 protein</text>
<text transform="translate(309.40,634.54) scale(0.3973,0.3400)" font-size="40" font-weight="bold" stroke="#111" stroke-width="0.952" stroke-linejoin="round">(normalized to&#160; GAPDH)</text>
<text transform="translate(32.79,219.87) rotate(-90) scale(0.4325,0.4125)" font-size="40" font-weight="bold" stroke="#111" stroke-width="0.829" stroke-linejoin="round">PAR4 reactivity (%)</text>
<text transform="translate(258.40,541.91) rotate(-90) scale(0.4324,0.4000)" font-size="40" font-weight="bold" stroke="#111" stroke-width="0.842" stroke-linejoin="round">PAR4 reactivity (%)</text>
<text transform="translate(38.79,564.42) rotate(-90) scale(0.4361,0.4062)" font-size="40" font-weight="bold" stroke="#111" stroke-width="0.832" stroke-linejoin="round">PAR4/GAPDH +/-&#160; S.E.M.</text>
<text transform="translate(286.16,218.18) rotate(-90) scale(0.4379,0.4400)" font-size="40" font-weight="bold" stroke="#111" stroke-width="0.797" stroke-linejoin="round">Log<tspan font-size="25" font-weight="normal" dy="9.5">2</tspan><tspan dy="-9.5"> </tspan><tspan font-style="italic">F2RL3</tspan> mRNA</text>
</g>
</svg>
</body></html>
